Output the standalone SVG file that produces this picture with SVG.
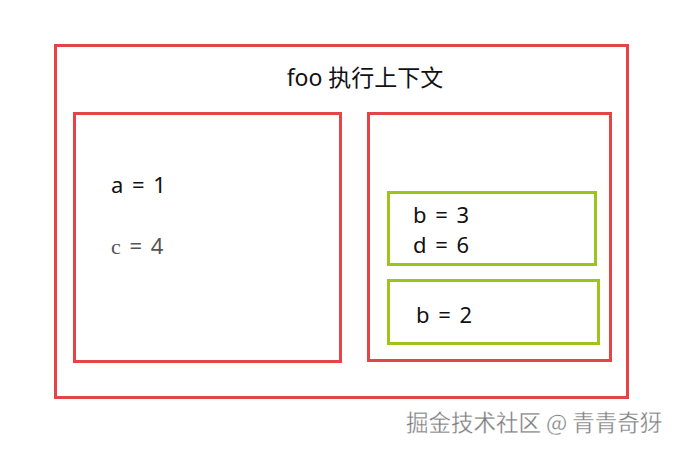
<svg xmlns="http://www.w3.org/2000/svg" width="686" height="451" viewBox="0 0 686 451">
<style>
.red{fill:none;stroke:#e54446;stroke-width:3}
.green{fill:none;stroke:#9dc41a;stroke-width:3}
.t{font-family:"Noto Sans","Open Sans","Noto Sans CJK SC",sans-serif;font-size:22px;fill:#111;word-spacing:3px}
.g{font-family:"Noto Sans","Open Sans",sans-serif;font-size:22px;fill:#555;word-spacing:3px}
.s{font-family:"Liberation Serif",serif;font-size:22px}
.wm{font-family:"Noto Sans CJK SC",sans-serif;font-size:22.5px;fill:#7d7d7d;stroke:#ffffff;stroke-width:0.3}
</style>
<rect width="686" height="451" fill="#fff"/>
<g id="foo-context">
<rect class="red" x="55.5" y="45.5" width="572" height="352"/>
<text class="t" x="365" y="86" text-anchor="middle" style="word-spacing:0;font-size:23px">foo 执行上下文</text>
</g>
<g id="left-box">
<rect class="red" x="74.5" y="113.5" width="266" height="248"/>
<text class="t" x="111" y="193">a = 1</text>
<text class="g" x="111" y="254"><tspan class="s">c</tspan> = 4</text>
</g>
<g id="right-box">
<rect class="red" x="368.5" y="113.5" width="242" height="247"/>
</g>
<g id="block-b3">
<rect class="green" x="388.5" y="192.5" width="207" height="72"/>
<text class="t" x="413" y="223">b = 3</text>
<text class="t" x="413" y="253">d = 6</text>
</g>
<g id="block-b2">
<rect class="green" x="388.5" y="280.5" width="210" height="63"/>
<text class="t" x="416" y="323">b = 2</text>
</g>
<g id="connectors"></g>
<text class="wm" x="406" y="431">掘金技术社区 @ 青青奇犽</text>
</svg>
